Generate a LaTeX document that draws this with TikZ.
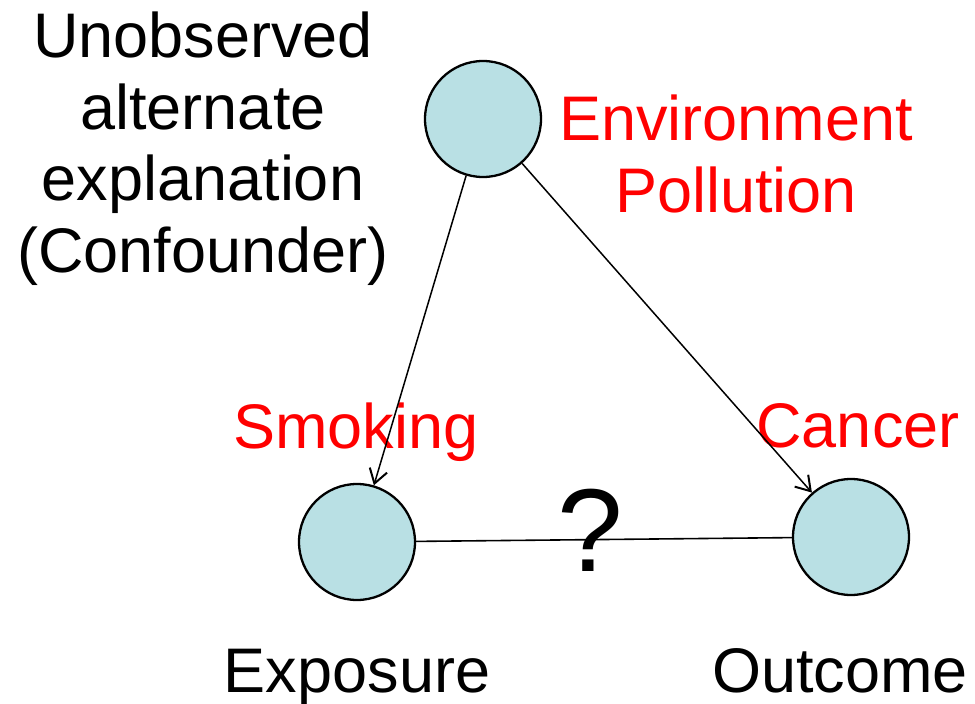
\documentclass[tikz,border=0pt]{standalone}
\usepackage{fontspec}
\setmainfont{Liberation Sans}
\usetikzlibrary{arrows.meta}
\definecolor{varfill}{RGB}{185,224,228}
\definecolor{lblred}{RGB}{255,0,0}
\tikzset{
  var/.style={draw, circle, fill=varfill, line width=2.3pt, minimum size=116pt, inner sep=0pt},
  lbl/.style={font=\fontsize{63}{71.5}\selectfont, align=center, anchor=base, inner sep=0pt},
}

\begin{document}
\begin{tikzpicture}[x=1pt, y=-1pt]
    \useasboundingbox (0,0) rectangle (975,704);
    \node[var] at (483,119) (pol) {};
    \node[var] at (357,542) (smk) {};
    \node[var] at (851,537) (cnc) {};
    \node[lbl] at (203,272) (conf) {Unobserved\\alternate\\explanation\\(Confounder)};
    \node[lbl, text=lblred] at (736,212) (poltxt) {Environment\\Pollution};
    \node[lbl, text=lblred] at (356,448) (smktxt) {Smoking};
    \node[lbl, text=lblred] at (858,447) (cnctxt) {Cancer};
    \node[lbl] at (357,692) (expo) {Exposure};
    \node[lbl] at (840,692) (outc) {Outcome};
    \path[-{Straight Barb[length=14pt,width=18pt,line width=2pt]}, line width=1.5pt]
    (pol)  edge (smk)
    (pol)  edge (cnc);
    \draw[line width=1.6pt] (smk) -- (cnc);
    \node[lbl, font=\fontsize{118}{130}\selectfont] at (590,571) (qm) {?};
  \end{tikzpicture}
\end{document}
